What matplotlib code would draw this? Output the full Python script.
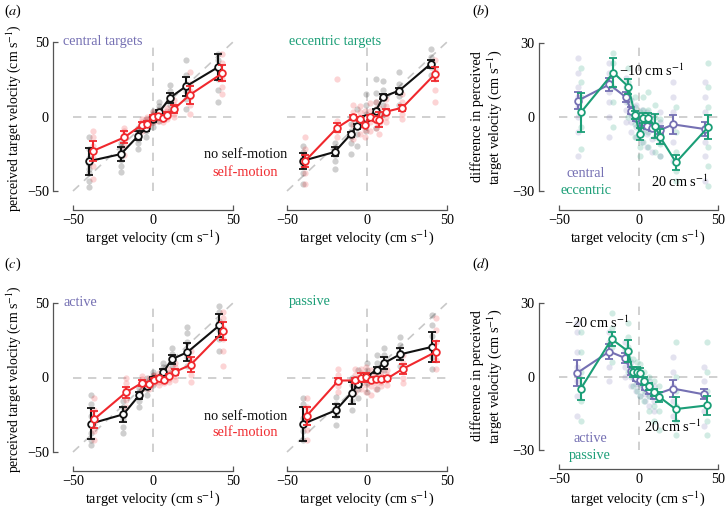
import matplotlib
matplotlib.use('Agg')
import matplotlib.pyplot as plt

plt.rcParams['font.family'] = ['Liberation Serif', 'DejaVu Serif']
plt.rcParams['mathtext.fontset'] = 'stix'
plt.rcParams['font.size'] = 10.3

# ---------------- DATA ----------------
# (a) central targets
a1_nsm_x = [-40, -20, -9.2, -4.4, 0.2, 4.0, 10.6, 20.6, 40.8]
a1_nsm_y = [-30, -25.2, -12.9, -7.9, -2.0, 3.0, 12.6, 20.2, 33.2]
a1_nsm_e = [9, 5, 3, 2, 1.5, 1.5, 3.5, 6.5, 8.5]
a1_sm_x = [-37.7, -17.9, -7.1, -3.5, -0.2, 3.3, 6.5, 8.5, 13.1, 23.1, 43.3]
a1_sm_y = [-23.2, -14.0, -5.7, -4.8, -0.3, 0.3, -0.8, 1.2, 5.0, 14.6, 29.0]
a1_sm_e = [6.7, 4, 2, 2, 1.5, 1.5, 1.5, 1.5, 2.5, 6, 5.5]
a1_nsm_pts = [[-47, -43, -38, -35, -32, -28, -22, -14], [-37, -33, -29, -26, -23, -20, -18],
              [-22, -18, -15, -12, -10, -8], [-14, -10, -8, -6, -4, -2], [-7, -4, -2, 0, 2, 4],
              [-3, 0, 3, 5, 7, 10], [4, 8, 11, 14, 17, 21], [5, 12, 17, 22, 28, 38],
              [10, 18, 25, 32, 38, 42]]
a1_sm_pts = [[-42, -33, -28, -24, -20, -14, -10], [-26, -20, -16, -13, -10, -8], [-10, -8, -6, -4, -2],
             [-8, -6, -4, -2, 0], [-4, -2, 0, 1, 3], [-3, -1, 1, 2, 4], [-4, -2, 0, 1, 3],
             [-2, 0, 2, 4, 6], [0, 2, 5, 8, 11], [2, 8, 13, 17, 22, 30], [15, 20, 25, 30, 36, 42]]
# (a) eccentric targets
a2_nsm_x = [-40.3, -20.2, -10.2, -6.5, -0.7, 5.4, 10.2, 20.2, 39.7]
a2_nsm_y = [-29.8, -23.8, -12.0, -6.6, -1.2, 3.5, 13.3, 17.4, 35.2]
a2_nsm_e = [5.6, 3, 1.5, 1.5, 1.5, 1.5, 1.5, 2, 2.5]
a2_sm_x = [-38.7, -18.6, -8.6, -4.4, -1.25, 1.9, 5.4, 7.7, 11.7, 22.1, 42.5]
a2_sm_y = [-29.9, -7.5, -0.6, -1.7, -5.7, -0.6, -1.7, -2.3, 3.2, 5.9, 28.5]
a2_sm_e = [4, 3, 1.5, 1.5, 1.5, 1.5, 1.5, 5, 1.5, 2, 4.5]
a2_nsm_pts = [[-45, -38, -33, -28, -24, -20], [-35, -30, -26, -22, -18], [-25, -18, -14, -10, -5, 0],
              [-20, -12, -7, -2, 5], [-10, -4, 2, 8, 15], [-8, 0, 5, 10, 16, 25],
              [2, 8, 13, 18, 24], [8, 14, 18, 22, 30], [28, 33, 36, 40, 45]]
a2_sm_pts = [[-45, -38, -32, -26, -22, -14], [-14, -10, -7, -3, 25], [-15, -6, -2, 3, 8],
             [-12, -6, -1, 3, 7], [-14, -9, -5, 0, 4], [-10, -4, 0, 4, 9], [-8, -3, 1, 5, 10],
             [-12, -5, -2, 2, 6], [-4, 0, 3, 7, 12], [-2, 2, 6, 10, 15], [10, 18, 25, 32, 38]]
# (b) differences
b_cen_x = [-38.3, -18.3, -7.9, -4.7, -1.6, 2.0, 5.1, 8.3, 13.5, 21.9, 41.8]
b_cen_y = [6.6, 13.2, 8.0, 2.6, -0.3, -2.2, -3.5, -4.3, -5.3, -3.0, -4.9]
b_cen_e = [3.4, 2.5, 2, 1.5, 1.5, 1.5, 1.5, 1.5, 1.5, 4, 3]
b_ecc_x = [-36.2, -15.8, -6.4, -2.2, 0.9, 3.0, 5.8, 10.4, 13.5, 23.6, 43.9]
b_ecc_y = [1.9, 18.0, 12.3, 0.8, -7.0, -0.5, -0.3, -3.6, -8.0, -18.4, -4.0]
b_ecc_e = [7.8, 6, 3, 1.5, 2.5, 2, 2, 5, 3, 3, 5]
b_cen_pts = [[-16, -6, 0, 4, 8, 12, 18, 24], [-8, 0, 6, 10, 14, 18, 22], [-2, 3, 6, 9, 12, 16],
             [-6, -2, 1, 4, 7], [-8, -4, -1, 2, 5], [-10, -6, -3, 0, 3], [-12, -7, -4, -1, 2],
             [-14, -9, -5, -2, 1], [-16, -10, -6, -2, 2], [-18, -10, -4, 2, 8, 14],
             [-26, -16, -10, -4, 2, 8, 14]]
b_ecc_pts = [[-13, -4, 2, 8, 14, 20], [-4, 6, 12, 18, 22, 26], [0, 6, 10, 14, 20], [-8, -3, 1, 4, 8],
             [-16, -12, -7, -3, 2], [-10, -5, -1, 3, 8], [-12, -6, -1, 3, 10], [-14, -8, -4, 0, 5],
             [-16, -11, -8, -5, -1], [-26, -22, -18, -14, -6, 4], [-28, -20, -12, -4, 4, 12, 22]]
# (c) active
c1_nsm_x = [-39, -18.5, -8.7, -4.0, 0.2, 6.5, 11.7, 21.5, 41.5]
c1_nsm_y = [-31, -24.7, -12.0, -6.0, -1.2, 3.5, 12.2, 17.0, 35.0]
c1_nsm_e = [10.5, 5, 2.5, 2, 1.5, 2, 3, 6, 7.6]
c1_sm_x = [-36.9, -16.9, -6.7, -2.5, 0.6, 4.0, 7.1, 10.2, 14.0, 23.5, 44.0]
c1_sm_y = [-28.1, -10.0, -3.5, -4.2, -1.5, -0.6, -1.6, 1.0, 3.9, 8.5, 31.0]
c1_sm_e = [5.5, 3.5, 2, 1.5, 1.5, 1.5, 1.5, 1.5, 2, 5, 6]
c1_nsm_pts = [[-45, -42, -37, -32, -26, -18, -12], [-37, -33, -28, -24, -20, -16], [-20, -16, -13, -10, -7],
              [-12, -8, -6, -3, 0], [-5, -2, 0, 2, 4], [-2, 2, 4, 7, 10], [4, 8, 12, 16, 20],
              [8, 14, 18, 24, 30, 34], [18, 26, 32, 38, 44, 48]]
c1_sm_pts = [[-42, -36, -31, -27, -22, -14], [-20, -15, -11, -8, -4, 0], [-8, -5, -3, -1, 1],
             [-8, -6, -4, -2, 0], [-4, -2, -1, 1, 2], [-5, -3, -1, 1, 3], [-4, -2, 0, 2, 4],
             [-3, -1, 1, 3, 6], [-2, 1, 4, 7, 10], [-3, 2, 7, 12, 18], [8, 18, 26, 33, 40, 44]]
# (c) passive
c2_nsm_x = [-40, -19.5, -9.6, -5.5, 0.0, 6.0, 10.5, 20.6, 40.4]
c2_nsm_y = [-31.2, -22.0, -10.2, -4.5, 0.5, 5.3, 9.6, 15.5, 20.5]
c2_nsm_e = [11.5, 4.5, 7.4, 2, 2, 2, 4, 4, 10]
c2_sm_x = [-37.7, -17.9, -7.5, -3.75, -0.6, 2.5, 5.7, 8.8, 12.8, 22.4, 43.2]
c2_sm_y = [-25.7, -2.1, -1.9, -0.2, 0.1, -1.7, -1.2, -1.2, -0.6, 5.8, 17.3]
c2_sm_e = [6, 1.5, 1.5, 3, 3, 1.5, 1.5, 1.5, 1.5, 3.5, 7]
c2_nsm_pts = [[-42, -36, -32, -27, -18, -14], [-32, -26, -22, -18, -13], [-22, -16, -10, -5, 0],
              [-14, -8, -4, 0, 5], [-10, -4, 0, 5, 10], [-8, 0, 5, 10, 15], [0, 5, 10, 15, 20],
              [8, 13, 17, 22, 27], [6, 14, 20, 28, 35, 42]]
c2_sm_pts = [[-42, -35, -29, -24, -20, -14], [-10, -6, -2, 2, 6], [-10, -5, -2, 2, 6], [-8, -4, 0, 3, 6],
             [-10, -5, 0, 3, 7], [-12, -6, -2, 2, 5], [-8, -4, -1, 2, 4], [-6, -3, -1, 1, 4],
             [-5, -2, 0, 2, 5], [-4, 0, 5, 10, 15], [6, 12, 18, 24, 32, 40]]
# (d) differences
d_act_x = [-38.5, -18.3, -8.7, -4.7, -1.6, 1.0, 4.1, 6.8, 9.7, 21.5, 41.2]
d_act_y = [1.5, 10.2, 7.6, 2.2, -0.5, -1.5, -4.2, -5.6, -7.6, -4.9, -7.3]
d_act_e = [5.4, 3, 2, 1.5, 1.5, 1.5, 1.5, 1.5, 1.5, 3.5, 2]
d_pas_x = [-36.3, -16.9, -6.6, -3.5, -1.0, 0.7, 3.6, 6.5, 9.6, 13.0, 23.3, 43.1]
d_pas_y = [-5.0, 15.3, 10.3, 1.9, 1.9, 1.6, -1.8, -4.0, -6.4, -8.3, -13.3, -11.8]
d_pas_e = [4.4, 3, 4.5, 2, 2, 2, 1.5, 1.5, 1.5, 2, 5, 4]
d_act_pts = [[-16, -8, -2, 4, 10, 18, 22], [-2, 4, 10, 14, 18], [0, 4, 8, 11, 14], [-4, 0, 3, 6],
             [-6, -3, 0, 3], [-8, -4, -1, 2], [-10, -7, -4, -1], [-12, -8, -5, -2], [-14, -10, -7, -4],
             [-16, -10, -4, 2, 8], [-20, -14, -8, -2, 4]]
d_pas_pts = [[-18, -10, -4, 2, 10, 18], [6, 12, 16, 20, 26], [2, 8, 12, 16, 22], [-4, 0, 3, 7],
             [-6, -2, 2, 6], [-8, -3, 1, 5], [-10, -6, -2, 2], [-14, -8, -4, 0], [-18, -12, -7, -2],
             [-22, -14, -9, -4], [-24, -18, -12, -6, 0, 14], [-24, -18, -12, -6, 2, 14]]

# ---------------- STYLE ----------------
BLACK = '#111111'
RED = '#f0282d'
PURPLE = '#7570b3'
GREEN = '#1b9e77'
DASH = '#c8c8c8'
SPINE = '#555555'

W, H = 726, 508
fig = plt.figure(figsize=(W / 100, H / 100), dpi=100)


def ax_px(x0, y0, x1, y1):
    return fig.add_axes([x0 / W, 1 - y1 / H, (x1 - x0) / W, (y1 - y0) / H])


def T(x, y, s, **kw):
    kw.setdefault('ha', 'center')
    kw.setdefault('va', 'center')
    fig.text(x / W, 1 - y / H, s, **kw)


def style(ax, lim, show_y=True):
    ax.set_xlim(-50, 50)
    ax.set_ylim(-lim, lim)
    ax.patch.set_visible(False)
    for s in ['top', 'right']:
        ax.spines[s].set_visible(False)
    for s in ['left', 'bottom']:
        ax.spines[s].set_color(SPINE)
        ax.spines[s].set_linewidth(0.9)
    ax.spines['bottom'].set_position(('outward', 19 * 0.72))
    ax.spines['bottom'].set_bounds(-50, 50)
    ax.set_xticks([-50, 50])
    ax.set_xticklabels(['\u221250', '50'])
    ax.set_xticks([0], minor=True)
    ax.set_xticklabels(['0'], minor=True)
    ax.tick_params(axis='x', which='major', direction='in', length=3.5, width=0.9,
                   color=SPINE, pad=3)
    ax.tick_params(axis='x', which='minor', length=0, pad=3)
    if show_y:
        ax.spines['left'].set_position(('outward', 20 * 0.72))
        ax.spines['left'].set_bounds(-lim, lim)
        ax.set_yticks([-lim, lim])
        ax.set_yticklabels(['\u2212%d' % lim, '%d' % lim])
        ax.set_yticks([0], minor=True)
        ax.set_yticklabels(['0'], minor=True)
        ax.tick_params(axis='y', which='major', direction='in', length=3.5, width=0.9,
                       color=SPINE, pad=3)
        ax.tick_params(axis='y', which='minor', length=0, pad=3)
    else:
        ax.spines['left'].set_visible(False)
        ax.set_yticks([])
        ax.set_yticks([], minor=True)
    dash = (0, (5, 4))
    ax.plot([-50, 50], [0, 0], color=DASH, lw=1.2, ls=dash, zorder=0, clip_on=False)
    ax.plot([0, 0], [-lim, lim], color=DASH, lw=1.2, ls=dash, zorder=0, clip_on=False)


def diag(ax):
    ax.plot([-50, 50], [-50, 50], color=DASH, lw=1.2, ls=(0, (5, 4)), zorder=0, clip_on=False)


def series(ax, x, y, e, pts, c, z=3):
    for xi, vals in zip(x, pts):
        ax.scatter([xi] * len(vals), vals, s=20, color=c, alpha=0.2, lw=0,
                   zorder=1, clip_on=False)
    ax.errorbar(x, y, yerr=e, color=c, lw=1.5, marker='o', ms=4.8, mfc='white', mec=c,
                mew=1.3, capsize=2.6, capthick=1.3, elinewidth=1.5, zorder=z, clip_on=False)


# Panel (a)
axA1 = ax_px(73, 42, 233, 191)
style(axA1, 50)
diag(axA1)
series(axA1, a1_nsm_x, a1_nsm_y, a1_nsm_e, a1_nsm_pts, BLACK, 3)
series(axA1, a1_sm_x, a1_sm_y, a1_sm_e, a1_sm_pts, RED, 4)

axA2 = ax_px(287, 42, 447, 191)
style(axA2, 50, show_y=False)
diag(axA2)
series(axA2, a2_nsm_x, a2_nsm_y, a2_nsm_e, a2_nsm_pts, BLACK, 3)
series(axA2, a2_sm_x, a2_sm_y, a2_sm_e, a2_sm_pts, RED, 4)

axB = ax_px(559, 43, 718, 191)
style(axB, 30)
series(axB, b_cen_x, b_cen_y, b_cen_e, b_cen_pts, PURPLE, 3)
series(axB, b_ecc_x, b_ecc_y, b_ecc_e, b_ecc_pts, GREEN, 4)

axC1 = ax_px(73, 303, 233, 452)
style(axC1, 50)
diag(axC1)
series(axC1, c1_nsm_x, c1_nsm_y, c1_nsm_e, c1_nsm_pts, BLACK, 3)
series(axC1, c1_sm_x, c1_sm_y, c1_sm_e, c1_sm_pts, RED, 4)

axC2 = ax_px(287, 303, 447, 452)
style(axC2, 50, show_y=False)
diag(axC2)
series(axC2, c2_nsm_x, c2_nsm_y, c2_nsm_e, c2_nsm_pts, BLACK, 3)
series(axC2, c2_sm_x, c2_sm_y, c2_sm_e, c2_sm_pts, RED, 4)

axD = ax_px(559, 303, 718, 450)
style(axD, 30)
series(axD, d_act_x, d_act_y, d_act_e, d_act_pts, PURPLE, 3)
series(axD, d_pas_x, d_pas_y, d_pas_e, d_pas_pts, GREEN, 4)

# ---------------- TEXT ----------------
unit = 'cm s$^{\u22121}$'
T(4, 11, '($\\mathit{a}$)', ha='left')
T(472, 11, '($\\mathit{b}$)', ha='left')
T(4, 264, '($\\mathit{c}$)', ha='left')
T(472, 264, '($\\mathit{d}$)', ha='left')

for yc in (118, 379):
    T(14, yc, 'perceived target velocity (' + unit + ')', rotation=90, fontsize=9.9)
for yc in (117, 376):
    T(487, yc, 'difference in perceived\ntarget velocity (' + unit + ')', rotation=90,
      linespacing=1.1)
for xc in (153, 367, 638):
    T(xc, 238, 'target velocity (' + unit + ')')
    T(xc, 499, 'target velocity (' + unit + ')')

T(63, 42, 'central targets', ha='left', color=PURPLE)
T(289, 42, 'eccentric targets', ha='left', color=GREEN)
T(63, 302, 'active', ha='left', color=PURPLE)
T(289, 302, 'passive', ha='left', color=GREEN)
for y1, y2 in ((155, 172), (417, 433)):
    T(245.5, y1, 'no self-motion', color=BLACK)
    T(245.5, y2, 'self-motion', color=RED)

T(652, 71, '\u221210 ' + unit)
T(680, 182, '20 ' + unit)
T(586, 173, 'central', color=PURPLE)
T(586, 191, 'eccentric', color=GREEN)
T(597, 323, '\u221220 ' + unit)
T(673, 427, '20 ' + unit)
T(590, 439, 'active', color=PURPLE)
T(590, 456, 'passive', color=GREEN)

fig.savefig('out.png', dpi=100)
